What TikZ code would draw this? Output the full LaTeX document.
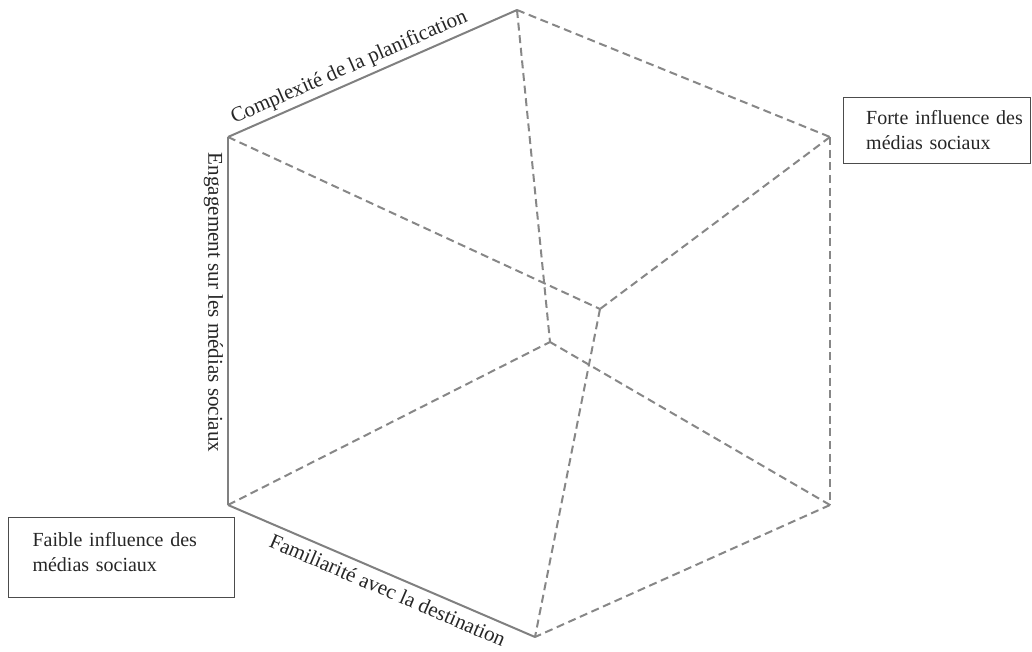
\documentclass[tikz,border=0pt]{standalone}
\usepackage{fontspec}
\setmainfont{Liberation Serif}
\begin{document}
\begin{tikzpicture}[x=0.75pt,y=-0.75pt,
  solidedge/.style={draw=black!50,line width=1.5pt},
  dashedge/.style={draw=black!47,line width=1.5pt,dash pattern=on 6pt off 3.5pt},
  lbl/.style={font=\fontsize{15.8}{18.75}\selectfont,text=black!85},
  infobox/.style={draw=black!70,line width=0.8pt,align=left,anchor=north west,
    font=\fontsize{15}{18.75}\selectfont,text=black!85,inner sep=0pt}]
\useasboundingbox (0,0) rectangle (1032,652);
% vertices
\coordinate (A) at (228,137);
\coordinate (B) at (517,10);
\coordinate (C) at (830,137);
\coordinate (D) at (830,505);
\coordinate (E) at (535,637);
\coordinate (F) at (228,505);
\coordinate (P) at (600,309);
\coordinate (Q) at (550,342);
% dashed hidden edges
\draw[dashedge] (B) -- (C);
\draw[dashedge] (C) -- (D);
\draw[dashedge] (D) -- (E);
\draw[dashedge] (A) -- (P);
\draw[dashedge] (C) -- (P);
\draw[dashedge] (P) -- (E);
\draw[dashedge] (B) -- (Q);
\draw[dashedge] (F) -- (Q);
\draw[dashedge] (D) -- (Q);
% solid axes
\draw[solidedge,line join=round] (B) -- node[lbl,sloped,above,pos=0.56,inner sep=3pt] {Complexité de la planification} (A);
\draw[solidedge,line join=round] (A) -- node[lbl,sloped,below,pos=0.45,inner sep=3pt] {Engagement sur les médias sociaux} (F);
\draw[solidedge,line join=round] (F) -- node[lbl,sloped,below,pos=0.54,inner sep=5pt] {Familiarité avec la destination} (E);
% boxes
\node[infobox,minimum width=169.5pt,text width=169.5pt,minimum height=60pt] (weak) at (8,517)
  {\hspace*{18pt}Faible influence des\\\hspace*{18pt}médias sociaux\rule[-8pt]{0pt}{0pt}};
\node[infobox,minimum width=140pt,text width=140pt,minimum height=49.5pt] (strong) at (843,97)
  {\hspace*{17pt}Forte influence des\\\hspace*{17pt}médias sociaux};
\end{tikzpicture}
\end{document}
